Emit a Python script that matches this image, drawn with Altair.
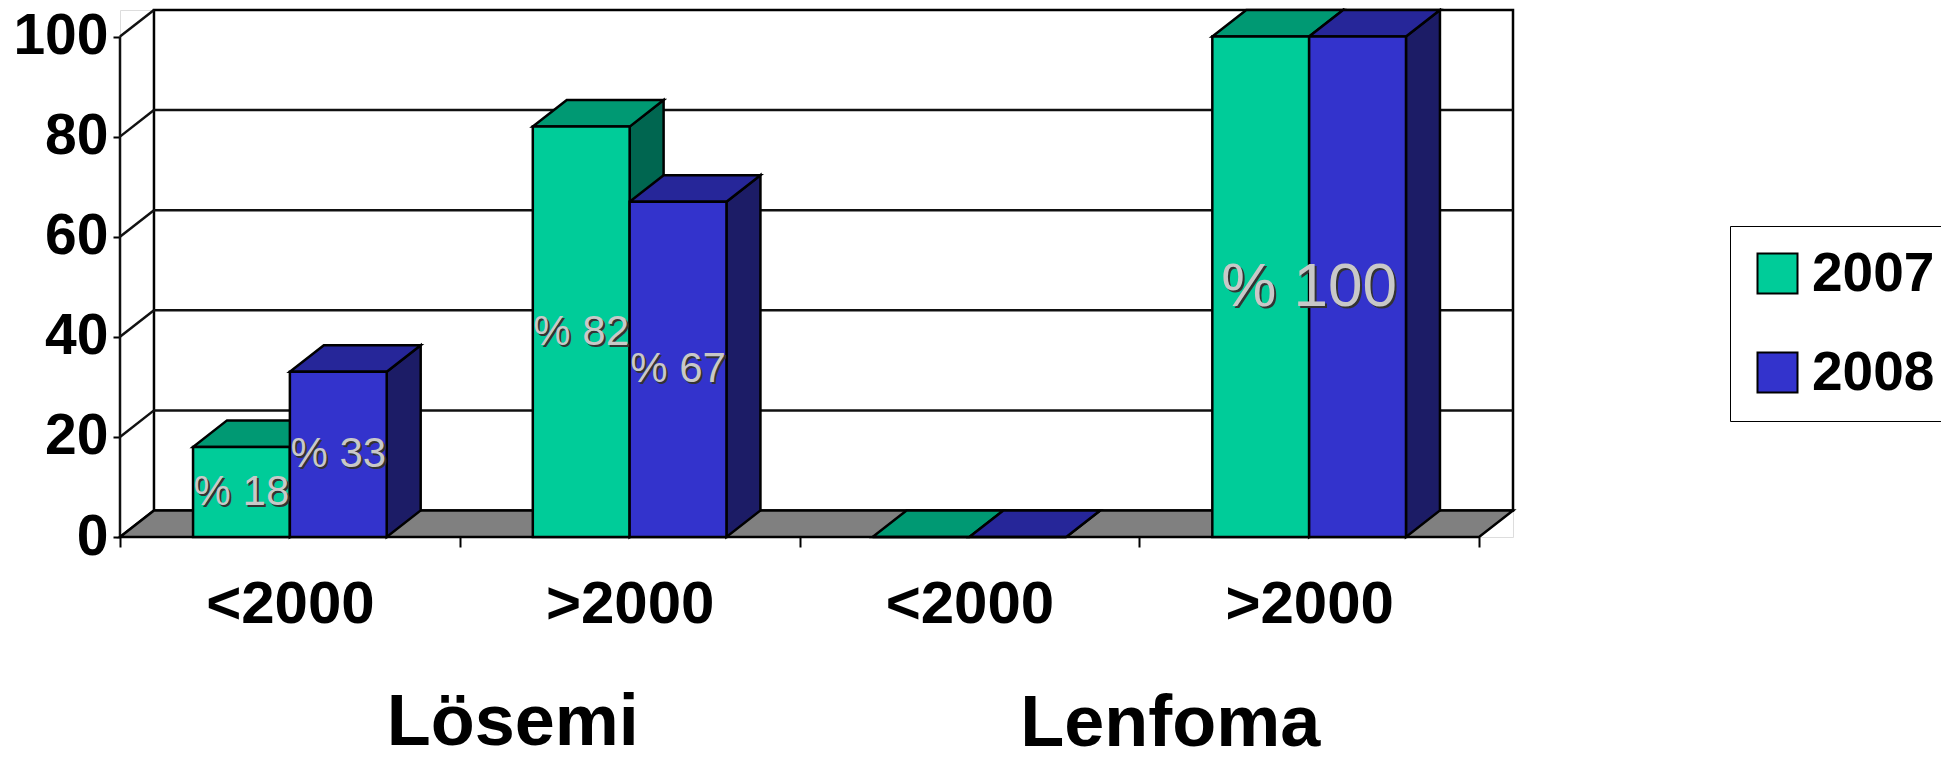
import altair as alt
import pandas as pd

# ---------------- data ----------------
groups = ["Lösemi", "Lenfoma"]
subcats = ["<2000", ">2000", "<2000", ">2000"]
years = ["2007", "2008"]
v2007 = [18, 82, 0, 100]
v2008 = [33, 67, 0, 100]
y_ticks = [0, 20, 40, 60, 80, 100]

# ---------------- styles / geometry (data units) ----------------
DX = 0.1      # depth offset, category units
DY = 5.3      # depth offset, value units
BAR_W = 0.285
N = len(subcats)
X_MAX = N + DX
Y_MAX = 100 + DY
LW = 2.5

front_colors = ["#00CC99", "#3333CC"]
top_colors = ["#009973", "#262699"]
side_colors = ["#006650", "#1C1C66"]

BOLD = "Liberation Sans, Arial, sans-serif"
SANS = "Liberation Sans, Arial, sans-serif"

XS = alt.Scale(domain=[0, X_MAX], nice=False, zero=False)
YS = alt.Scale(domain=[0, Y_MAX], nice=False, zero=False)

# ---------------- tables ----------------
series = [v2007, v2008]
bar_rows, top_rows, side_rows = [], [], []
for i in range(N):
    for j, vals in enumerate(series):
        v = vals[i]
        x0 = i + 0.5 - BAR_W + j * BAR_W
        x1 = x0 + BAR_W
        bid = f"{i}-{j}"
        bar_rows.append(dict(id=bid, year=years[j], value=v, zero=0, x0=x0, x1=x1))
        top_rows.append(dict(id=bid, year=years[j], y=v, xa=x0, xb=x1))
        top_rows.append(dict(id=bid, year=years[j], y=v + DY, xa=x0 + DX, xb=x1 + DX))
        side_rows.append(dict(id=bid, year=years[j], x=x1, ya=0, yb=v))
        side_rows.append(dict(id=bid, year=years[j], x=x1 + DX, ya=DY, yb=v + DY))
bars = pd.DataFrame(bar_rows)
tops = pd.DataFrame(top_rows)
sides = pd.DataFrame(side_rows)

label_rows = []
for i in range(N):
    a, b = v2007[i], v2008[i]
    if a == b and a > 0:
        label_rows.append(dict(txt=f"% {a}", x=i + 0.5, y=a / 2, fs=62))
    else:
        for j, v in enumerate((a, b)):
            if v > 0:
                label_rows.append(dict(txt=f"% {v}", x=i + 0.5 - BAR_W / 2 + j * BAR_W, y=v / 2, fs=42))
labels = pd.DataFrame(label_rows)

wall = pd.DataFrame([dict(x=DX, x2=N + DX, y=DY, y2=100 + DY)])
back_grid = pd.DataFrame([dict(x=DX, x2=N + DX, y=g + DY, y2=g + DY) for g in y_ticks[1:-1]])
side_grid = pd.DataFrame([dict(x=0, x2=DX, y=g, y2=g + DY) for g in y_ticks]
                         + [dict(x=0, x2=0, y=0, y2=100)])
floor = pd.DataFrame([dict(id="f", y=0, xa=0, xb=N), dict(id="f", y=DY, xa=DX, xb=N + DX)])
glabels = pd.DataFrame([dict(name=g, x=2 * k + 1) for k, g in enumerate(groups)])

# ---------------- layers ----------------
label_expr = ("datum.value % 1 === 0 ? '' : " + str(subcats) + "[floor(datum.value)]")

X_AXIS = alt.Axis(values=[k / 2 for k in range(2 * N + 1)], labelExpr=label_expr,
                  domain=False, grid=False, tickSize=10, tickWidth=2,
                  tickColor={"condition": {"test": "datum.value % 1 === 0", "value": "black"},
                             "value": "transparent"},
                  labelFont=BOLD, labelFontSize=60, labelFontWeight="bold",
                  labelColor="black", labelPadding=28, labelOverlap=False,
                  labelBound=False, labelFlush=False, title=None)
Y_AXIS = alt.Axis(values=y_ticks, domain=False, grid=False, tickSize=7, tickWidth=2,
                  tickColor="black", labelFont=BOLD, labelFontSize=57,
                  labelFontWeight="bold", labelColor="black", labelPadding=5,
                  labelOverlap=False, labelBound=False, labelFlush=False, title=None)


def X(f, **kw):
    return alt.X(f, scale=XS, title=None, **kw)


def Y(f, **kw):
    return alt.Y(f, scale=YS, title=None, **kw)


back = alt.Chart(wall).mark_rect(fill="white", stroke="black", strokeWidth=LW).encode(
    x=alt.X("x:Q", scale=XS, title=None, axis=X_AXIS), x2="x2:Q",
    y=alt.Y("y:Q", scale=YS, title=None, axis=Y_AXIS), y2="y2:Q",
)

grid_b = alt.Chart(back_grid).mark_rule(color="#111111", strokeWidth=LW).encode(
    x=X("x:Q"), x2="x2:Q", y=Y("y:Q"), y2="y2:Q")
grid_s = alt.Chart(side_grid).mark_rule(color="#111111", strokeWidth=LW).encode(
    x=X("x:Q"), x2="x2:Q", y=Y("y:Q"), y2="y2:Q")

floor_l = alt.Chart(floor).mark_area(orient="horizontal", fill="#808080", stroke="black",
                                     strokeWidth=LW, opacity=1).encode(
    y=Y("y:Q"), x=X("xa:Q", stack=None), x2="xb:Q", detail="id:N")

side_l = alt.Chart(sides).mark_area(orient="vertical", stroke="black", strokeWidth=LW,
                                    opacity=1).encode(
    x=X("x:Q"), y=Y("yb:Q", stack=None), y2="ya:Q", detail="id:N",
    color=alt.Color("year:N", scale=alt.Scale(domain=years, range=side_colors), legend=None))

top_l = alt.Chart(tops).mark_area(orient="horizontal", stroke="black", strokeWidth=LW,
                                  opacity=1).encode(
    y=Y("y:Q"), x=X("xa:Q", stack=None), x2="xb:Q", detail="id:N",
    color=alt.Color("year:N", scale=alt.Scale(domain=years, range=top_colors), legend=None))

front_l = alt.Chart(bars).mark_rect(stroke="black", strokeWidth=LW, opacity=1).encode(
    x=X("x0:Q"), x2="x1:Q", y=Y("value:Q"), y2="zero:Q",
    color=alt.Color("year:N", scale=alt.Scale(domain=years, range=front_colors),
                    legend=alt.Legend(title=None, orient="none", legendX=1610, legendY=216,
                                      direction="vertical", symbolType="square",
                                      symbolSize=1600, symbolStrokeColor="black",
                                      symbolStrokeWidth=2, symbolOpacity=1,
                                      labelFont=BOLD, labelFontSize=55,
                                      labelFontWeight="bold", labelColor="black",
                                      strokeColor="black", fillColor="white",
                                      padding=20, rowPadding=43, labelOffset=7,
                                      labelLimit=400)))

shadow_l = alt.Chart(labels).mark_text(font=SANS, color="#333333", dx=2, dy=2,
                                       baseline="middle", align="center").encode(
    x=X("x:Q"), y=Y("y:Q"), text="txt:N", size=alt.Size("fs:Q", scale=None, legend=None))
text_l = alt.Chart(labels).mark_text(font=SANS, color="#C8C8C8",
                                     baseline="middle", align="center").encode(
    x=X("x:Q"), y=Y("y:Q"), text="txt:N", size=alt.Size("fs:Q", scale=None, legend=None))

g1 = alt.Chart(glabels).transform_filter(alt.datum.name == groups[0]).mark_text(
    font=SANS, fontWeight="bold", fontSize=72, color="black", baseline="top",
    align="center", dx=53).encode(x=X("x:Q"), y=alt.value(678), text="name:N")
g2 = alt.Chart(glabels).transform_filter(alt.datum.name == groups[1]).mark_text(
    font=SANS, fontWeight="bold", fontSize=72, color="black", baseline="top",
    align="center", dx=31).encode(x=X("x:Q"), y=alt.value(679), text="name:N")

chart = alt.layer(back, grid_b, grid_s, floor_l, side_l, top_l, front_l,
                  shadow_l, text_l, g1, g2).resolve_scale(color="independent").properties(
    width=1393, height=527,
    autosize=alt.AutoSizeParams(type="none"),
    padding={"left": 112, "top": 2, "right": 428, "bottom": 212},
).configure_view(stroke=None).configure(background="white")

chart.save("out.html", embed_options={"renderer": "svg", "actions": False})
